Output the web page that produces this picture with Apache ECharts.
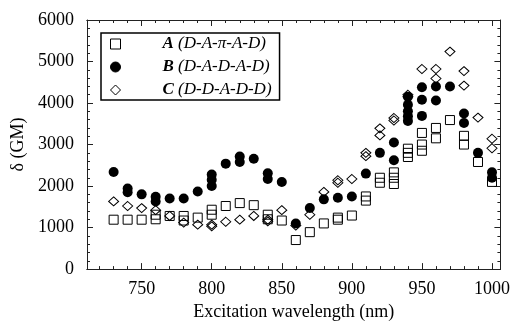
<!DOCTYPE html>
<html>
<head>
<meta charset="utf-8">
<script src="https://cdn.jsdelivr.net/npm/echarts@6/dist/echarts.min.js"></script>
<style>html,body{margin:0;padding:0;background:#fff}#c{width:513px;height:326px}</style>
</head>
<body>
<div id="c"></div>
<script>
// Series A (squares): [wavelength nm, delta GM]
const seriesA = [
  [730,1190],[740,1190],[750,1190],[760,1310],[760,1200],[770,1280],[780,1280],[780,1170],
  [790,1240],[800,1430],[800,1310],[810,1520],[820,1590],[830,1540],[840,1310],[840,1200],
  [850,1170],[860,700],[870,890],[880,1100],[890,1240],[890,1190],[900,1290],[910,1750],[910,1650],
  [920,2200],[920,2080],[930,2330],[930,2200],[930,2050],[940,2900],[940,2800],[940,2700],
  [950,3280],[950,3000],[950,2850],[960,3400],[960,3150],[970,3590],[980,3210],[980,3000],
  [990,2580],[1000,2100]
];
// Series B (filled circles)
const seriesB = [
  [730,2340],[740,1940],[740,1850],[750,1800],[760,1740],[760,1630],[770,1700],[780,1700],
  [790,1870],[800,2280],[800,2150],[800,2000],[810,2540],[820,2710],[820,2580],[830,2660],
  [840,2310],[840,2170],[850,2100],[860,1100],[870,1470],[880,1680],[890,1720],[900,1750],
  [910,2300],[920,2800],[930,3050],[930,2620],[940,4150],[940,3960],[940,3800],[940,3680],[940,3570],
  [950,4380],[950,4080],[950,3690],[960,4400],[960,4060],[970,4400],[980,3750],[980,3520],
  [990,2800],[1000,2330],[1000,2200]
];
// Series C (hollow diamonds)
const seriesC = [
  [730,1630],[740,1520],[750,1470],[760,1420],[770,1280],[780,1120],[790,1070],[800,1070],[800,1030],
  [810,1140],[820,1190],[830,1280],[840,1190],[840,1150],[850,1420],[860,1050],[870,1310],
  [880,1860],[890,2140],[890,2080],[900,2170],[910,2800],[910,2720],[920,3390],[920,3220],
  [930,3640],[930,3580],[940,4200],[940,4150],[950,4820],[960,4820],[960,4590],[970,5240],
  [980,4770],[980,4420],[990,3650],[1000,3140],[1000,2910]
];
const seriesNames = ['A','B','C'];
const legendLabels = {A:'(D-A-π-A-D)', B:'(D-A-D-A-D)', C:'(D-D-A-D-D)'};
const xMajorTicks = [750,800,850,900,950,1000];
const xMinorTicks = [720,730,740,750,760,770,780,790,800,810,820,830,840,850,860,870,880,890,900,910,920,930,940,950,960,970,980,990,1000];
const xTitle = 'Excitation wavelength (nm)';
const yTitle = 'δ (GM)';

const FONT = 'Liberation Serif';
const chart = echarts.init(document.getElementById('c'), null, {renderer:'canvas'});
const lineStyle = {color:'#222', width:1};
const plain = v => String(v);
function xAx(pos, ticks, len, labels){
  return {
    type:'value', min:711, max:1006, position:pos, gridIndex:0,
    axisLine:{show:true, onZero:false, lineStyle},
    axisTick:{show:true, inside:true, length:len, customValues:ticks, lineStyle},
    axisLabel: labels ? {show:true, customValues:xMajorTicks, formatter:plain, fontFamily:FONT, fontSize:18, color:'#000', margin:11} : {show:false},
    splitLine:{show:false}
  };
}
function yAx(pos, labels){
  return {
    type:'value', min:0, max:6000, interval:1000, position:pos,
    axisLine:{show:true, onZero:false, lineStyle},
    axisTick:{show:true, inside:true, length:6, lineStyle},
    minorTick:{show:true, splitNumber:5, length:3, lineStyle},
    axisLabel: labels ? {show:true, formatter:plain, fontFamily:FONT, fontSize:18, color:'#000', margin:13} : {show:false},
    splitLine:{show:false},
    name: labels ? yTitle : '', nameLocation:'middle', nameGap:57,
    nameTextStyle:{fontFamily:FONT, fontSize:18, color:'#000'}
  };
}
const xAxes = [
  Object.assign(xAx('bottom', xMajorTicks, 6, true), {name:xTitle, nameLocation:'middle', nameGap:31, nameTextStyle:{fontFamily:FONT, fontSize:18, color:'#000'}}),
  xAx('bottom', xMinorTicks, 3, false),
  xAx('top', xMajorTicks, 6, false),
  xAx('top', xMinorTicks, 3, false)
];
const yAxes = [yAx('left', true), yAx('right', false)];

const dataMap = {A:seriesA, B:seriesB, C:seriesC};
const styleMap = {
  A:{symbol:'rect', symbolSize:9, itemStyle:{color:'rgba(255,255,255,0)', borderColor:'#000', borderWidth:1, opacity:1}},
  B:{symbol:'circle', symbolSize:10, itemStyle:{color:'#000', borderColor:'#000', borderWidth:0, opacity:1}},
  C:{symbol:'diamond', symbolSize:[10,9], itemStyle:{color:'rgba(255,255,255,0)', borderColor:'#000', borderWidth:1, opacity:1}}
};
const order = ['A','C','B'];
const series = order.map(n => Object.assign({
  name:n, type:'scatter', xAxisIndex:0, yAxisIndex:0, data:dataMap[n],
  emphasis:{disabled:true}, z: n==='B'?3:2
}, styleMap[n]));

chart.setOption({
  animation:false,
  backgroundColor:'#fff',
  grid:{left:87, right:10, top:20, bottom:48, containLabel:false},
  xAxis:xAxes,
  yAxis:yAxes,
  legend:{
    data:seriesNames.map(n=>({name:n, icon:styleMap[n].symbol, itemStyle:Object.assign({}, styleMap[n].itemStyle, {borderWidth:1})})),
    orient:'vertical', left:101, top:33,
    padding:[2,8,1,9], itemGap:5, itemWidth:10, itemHeight:10,
    borderColor:'#000', borderWidth:1.5, backgroundColor:'#fff',
    selectedMode:false,
    formatter: n => '{s|}{b|' + n + '} {i|' + legendLabels[n] + '}',
    textStyle:{fontFamily:FONT, fontSize:17, color:'#000', lineHeight:18,
      rich:{
        s:{width:37},
        b:{fontFamily:FONT, fontSize:17, fontWeight:'bold', fontStyle:'italic', color:'#000'},
        i:{fontFamily:FONT, fontSize:17, fontStyle:'italic', color:'#000'}
      }}
  },
  series
});
</script>
</body>
</html>
